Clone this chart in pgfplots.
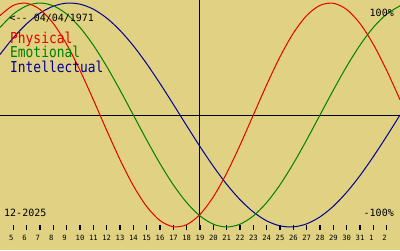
\documentclass[border=0pt]{standalone}
\usepackage{pgfplots}
\pgfplotsset{compat=1.18}
\usepackage{fontspec}
\newfontfamily\bigmono[FakeStretch=0.86]{DejaVu Sans Mono}
\newfontfamily\mono{DejaVu Sans Mono}
\definecolor{bg}{RGB}{224,210,130}
\definecolor{pred}{RGB}{230,0,0}
\definecolor{pgreen}{RGB}{0,128,0}
\definecolor{pblue}{RGB}{0,0,150}
\begin{document}
\begin{tikzpicture}[x=1pt,y=1pt]
\fill[bg] (0,-20) rectangle (400,230);
\useasboundingbox (0,-20) rectangle (400,230);
\begin{axis}[at={(0,0)}, anchor=south west, scale only axis,
  width=400pt, height=230pt,
  xmin=4, xmax=34, ymin=-1.0268, ymax=1.0268,
  axis x line*=bottom, axis y line=none,
  x axis line style={draw=none},
  ytick=\empty,
  xtick={5,6,...,33},
  xticklabels={5,6,7,8,9,10,11,12,13,14,15,16,17,18,19,20,21,22,23,24,25,26,27,28,29,30,31,1,2},
  tick align=inside, major tick length=5.5pt,
  tick style={black, line width=1.3pt},
  xticklabel style={anchor=north west, inner sep=0pt, xshift=-4.5pt, yshift=-5.2pt, font=\mono\fontsize{7.2}{8}\selectfont},
  clip=false,
]
\addplot[black, line width=1pt] coordinates {(4,0) (34,0)};
\addplot[black, line width=1pt] coordinates {(19,-1.0268) (19,1.0268)};
\addplot[pblue, line width=1pt, smooth] coordinates {
(4,0.5406)(5,0.6901)(6,0.8146)(7,0.9096)(8,0.9718)(9,0.9989)(10,0.9898)(11,0.9450)
(12,0.8660)(13,0.7557)(14,0.6182)(15,0.4582)(16,0.2817)(17,0.0951)(18,-0.0951)
(19,-0.2817)(20,-0.4582)(21,-0.6182)(22,-0.7557)(23,-0.8660)(24,-0.9450)(25,-0.9898)
(26,-0.9989)(27,-0.9718)(28,-0.9096)(29,-0.8146)(30,-0.6901)(31,-0.5406)(32,-0.3717)
(33,-0.1893)(34,0)};
\addplot[pgreen, line width=1pt, smooth] coordinates {
(4,0.7818)(5,0.9010)(6,0.9749)(7,1)(8,0.9749)(9,0.9010)(10,0.7818)(11,0.6235)
(12,0.4339)(13,0.2225)(14,0)(15,-0.2225)(16,-0.4339)(17,-0.6235)(18,-0.7818)
(19,-0.9010)(20,-0.9749)(21,-1)(22,-0.9749)(23,-0.9010)(24,-0.7818)(25,-0.6235)
(26,-0.4339)(27,-0.2225)(28,0)(29,0.2225)(30,0.4339)(31,0.6235)(32,0.7818)
(33,0.9010)(34,0.9749)};
\addplot[pred, line width=1pt, smooth] coordinates {
(4,0.8879)(5,0.9791)(6,0.9977)(7,0.9423)(8,0.8170)(9,0.6311)(10,0.3984)(11,0.1362)
(12,-0.1362)(13,-0.3984)(14,-0.6311)(15,-0.8170)(16,-0.9423)(17,-0.9977)(18,-0.9791)
(19,-0.8879)(20,-0.7308)(21,-0.5196)(22,-0.2698)(23,0)(24,0.2698)(25,0.5196)
(26,0.7308)(27,0.8879)(28,0.9791)(29,0.9977)(30,0.9423)(31,0.8170)(32,0.6311)
(33,0.3984)(34,0.1362)};
\end{axis}
\node[anchor=base west, inner sep=0pt, font=\mono\fontsize{10}{12}\selectfont] at (9.5,208.3) {<-{}- 04/04/1971};
\node[anchor=base west, inner sep=0pt, font=\bigmono\fontsize{15}{17}\selectfont, text=pred] at (10,187) {Physical};
\node[anchor=base west, inner sep=0pt, font=\bigmono\fontsize{15}{17}\selectfont, text=pgreen] at (10,173) {Emotional};
\node[anchor=base west, inner sep=0pt, font=\bigmono\fontsize{15}{17}\selectfont, text=pblue] at (10,158) {Intellectual};
\node[anchor=base east, inner sep=0pt, font=\mono\fontsize{10}{12}\selectfont] at (394,214) {100\%};
\node[anchor=base east, inner sep=0pt, font=\mono\fontsize{10}{12}\selectfont] at (394,14) {-100\%};
\node[anchor=base west, inner sep=0pt, font=\mono\fontsize{10}{12}\selectfont] at (4,14) {12-2025};
\end{tikzpicture}
\end{document}
